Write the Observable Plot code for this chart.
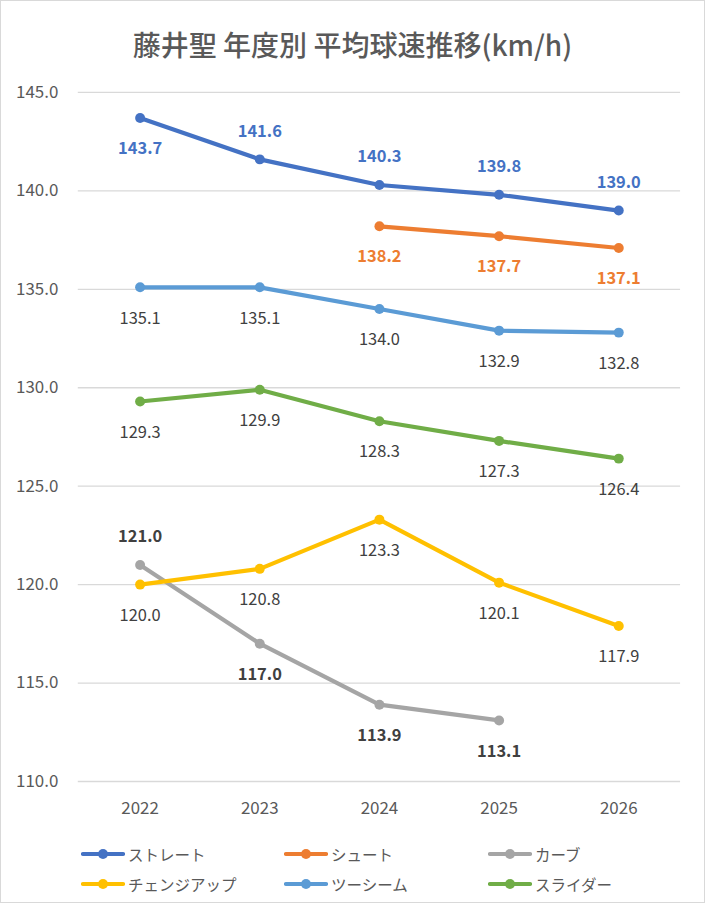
<!DOCTYPE html>
<html>
<head>
<meta charset="utf-8">
<script src="https://cdn.jsdelivr.net/npm/d3@7"></script>
<script src="https://cdn.jsdelivr.net/npm/@observablehq/plot@0.6"></script>
<style>
  html, body { margin: 0; padding: 0; background: #fff; }
  #chart { position: relative; width: 703px; height: 901px; border: 1px solid #d9d9d9; overflow: hidden; font-family: "Noto Sans CJK JP", "Noto Sans", sans-serif; }
  #title { height: 70px; line-height: 86px; text-align: center; font-size: 28px; color: #595959; font-weight: 500; letter-spacing: 0px; }
  #plot { position: absolute; left: 0; top: 70px; }
  #legend { position: absolute; left: 0; top: 838px; width: 705px; }
  .row { position: relative; height: 30px; }
  .item { position: absolute; top: 0; display: flex; align-items: center; height: 30px; font-size: 15.5px; color: #595959; }
  .item svg { margin-right: 3px; }
</style>
</head>
<body>
<div id="chart">
  <div id="title">藤井聖 年度別 平均球速推移(km/h)</div>
  <div id="plot"></div>
  <div id="legend"></div>
</div>
<script>
const years = ["2022", "2023", "2024", "2025", "2026"];
const seriesNames = ["ストレート", "シュート", "カーブ", "チェンジアップ", "ツーシーム", "スライダー"];
const straight = [143.7, 141.6, 140.3, 139.8, 139.0];
const shoot = [null, null, 138.2, 137.7, 137.1];
const curve = [121.0, 117.0, 113.9, 113.1, null];
const changeup = [120.0, 120.8, 123.3, 120.1, 117.9];
const twoSeam = [135.1, 135.1, 134.0, 132.9, 132.8];
const slider = [129.3, 129.9, 128.3, 127.3, 126.4];
const yTicks = [110, 115, 120, 125, 130, 135, 140, 145];

const colors = ["#4472C4", "#ED7D31", "#A5A5A5", "#FFC000", "#5B9BD5", "#70AD47"];
const labelColors = ["#4472C4", "#ED7D31", "#404040", "#404040", "#404040", "#404040"];
const labelWeights = ["bold", "bold", "bold", "normal", "normal", "normal"];
// which data labels sit above their point
const labelAbove = [
  [false, true, true, true, true],
  [false, false, false, false, false],
  [true, false, false, false, false],
  [false, false, false, false, false],
  [false, false, false, false, false],
  [false, false, false, false, false]
];

const allValues = [straight, shoot, curve, changeup, twoSeam, slider];
const rows = [];
allValues.forEach((vals, s) => {
  vals.forEach((v, i) => {
    if (v != null) rows.push({series: seriesNames[s], si: s, year: years[i], value: v, above: labelAbove[s][i]});
  });
});

const font = "'Noto Sans CJK JP', 'Noto Sans', sans-serif";
const marks = [
  Plot.gridY(yTicks, {stroke: "#d9d9d9", strokeOpacity: 1, strokeWidth: 1.3}),
  Plot.axisY(yTicks, {tickSize: 0, tickPadding: 20, fontSize: 17, fill: "#595959", tickFormat: d => d.toFixed(1), label: null}),
  Plot.axisX({tickSize: 0, tickPadding: 21, fontSize: 17, fill: "#595959", label: null})
];
seriesNames.forEach((name, s) => {
  const d = rows.filter(r => r.si === s);
  marks.push(Plot.line(d, {x: "year", y: "value", stroke: colors[s], strokeWidth: 4.2, curve: "linear"}));
  marks.push(Plot.dot(d, {x: "year", y: "value", fill: colors[s], r: 5, stroke: "none"}));
});
seriesNames.forEach((name, s) => {
  const d = rows.filter(r => r.si === s);
  marks.push(Plot.text(d.filter(r => r.above), {x: "year", y: "value", text: r => r.value.toFixed(1), dy: -28, fill: labelColors[s], fontWeight: labelWeights[s], fontSize: 16.5}));
  marks.push(Plot.text(d.filter(r => !r.above), {x: "year", y: "value", text: r => r.value.toFixed(1), dy: 31, fill: labelColors[s], fontWeight: labelWeights[s], fontSize: 16.5}));
});

const plot = Plot.plot({
  width: 705,
  height: 760,
  marginLeft: 77,
  marginRight: 24,
  marginTop: 21,
  marginBottom: 48,
  style: {fontFamily: font, background: "transparent"},
  x: {type: "point", domain: years, padding: 0.5},
  y: {domain: [110, 145]},
  marks
});
document.getElementById("plot").appendChild(plot);

// legend
const legend = document.getElementById("legend");
const cols = [80, 283, 487];
for (let r = 0; r < 2; r++) {
  const row = document.createElement("div");
  row.className = "row";
  for (let c = 0; c < 3; c++) {
    const s = r * 3 + c;
    const item = document.createElement("div");
    item.className = "item";
    item.style.left = cols[c] + "px";
    item.innerHTML = `<svg width="44" height="12"><line x1="2" x2="42" y1="6" y2="6" stroke="${colors[s]}" stroke-width="4.2" stroke-linecap="round"/><circle cx="22" cy="6" r="5" fill="${colors[s]}"/></svg><span>${seriesNames[s]}</span>`;
    row.appendChild(item);
  }
  legend.appendChild(row);
}
</script>
</body>
</html>
